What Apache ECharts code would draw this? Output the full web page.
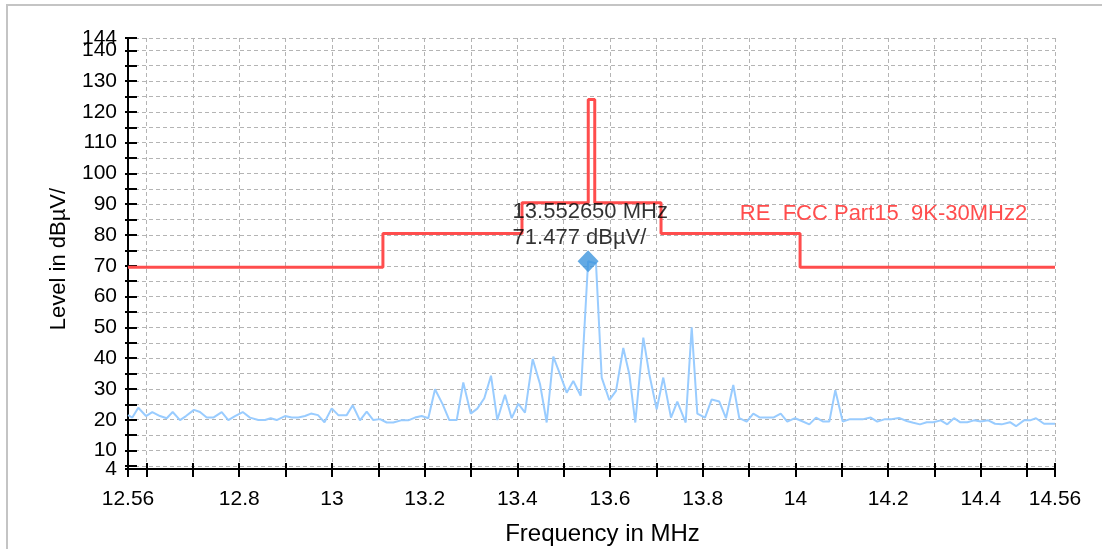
<!DOCTYPE html>
<html><head><meta charset="utf-8">
<script src="https://cdn.jsdelivr.net/npm/echarts@6/dist/echarts.min.js"></script>
<style>html,body{margin:0;padding:0;background:#fff}#c{width:1102px;height:549px}</style>
</head><body><div id="c"></div>
<script>
// ---- data ----
const freqTicks = [12.56,12.6,12.7,12.8,12.9,13.0,13.1,13.2,13.3,13.4,13.5,13.6,13.7,13.8,13.9,14.0,14.1,14.2,14.3,14.4,14.5,14.56];
const freqLabels = [12.56,12.8,13,13.2,13.4,13.6,13.8,14,14.2,14.4,14.56];
const levelTicks = [4,5,10,15,20,25,30,35,40,45,50,55,60,65,70,75,80,85,90,95,100,105,110,115,120,125,130,135,140,144];
const levelLabels = [10,20,30,40,50,60,70,80,90,100,110,120,130,140];
const levelEndLabels = [4,144];

const traceFreq = [12.56,12.5693,12.5822,12.5988,12.6124,12.6290,12.6435,12.6564,12.6722,12.6851,
 12.7024,12.7153,12.7298,12.7440,12.7622,12.7764,12.7909,12.8075,12.8232,12.8411,
 12.8556,12.8679,12.8808,12.8987,12.9132,12.9274,12.9419,12.9548,12.9699,12.9839,
 12.9995,13.0137,13.0318,13.0448,13.0605,13.0750,13.0892,13.1037,13.1181,13.1324,
 13.1490,13.1647,13.1792,13.1937,13.2079,13.2224,13.2390,13.2532,13.2692,13.2834,
 13.2994,13.3136,13.3287,13.3432,13.3568,13.3734,13.3878,13.4021,13.4165,13.4331,
 13.4489,13.4633,13.4776,13.4920,13.5065,13.5207,13.5367,13.5527,13.5697,13.5820,
 13.5984,13.6129,13.6286,13.6416,13.6545,13.6718,13.6847,13.7007,13.7149,13.7315,
 13.7451,13.7632,13.7762,13.7883,13.8049,13.8193,13.8357,13.8502,13.8659,13.8789,
 13.8948,13.9091,13.9235,13.9380,13.9522,13.9682,13.9824,13.9991,14.0135,14.0299,
 14.0444,14.0601,14.0731,14.0860,14.1020,14.1177,14.1322,14.1464,14.1624,14.1766,
 14.1932,14.2077,14.2234,14.2400,14.2543,14.2687,14.2832,14.2974,14.3134,14.3276,
 14.3421,14.3550,14.3708,14.3852,14.3997,14.4161,14.4306,14.4450,14.4629,14.4759,
 14.4931,14.5061,14.5190,14.5363,14.56];
const traceLevel = [21.5,20.7,23.9,21.2,22.5,21.2,20.5,22.5,19.9,21.2,
 23.2,22.5,20.7,20.7,22.5,19.9,21.2,22.5,20.7,19.9,
 19.9,20.5,19.9,21.2,20.7,20.7,21.2,22.0,21.5,19.2,
 23.7,21.5,21.5,24.7,19.8,22.6,19.9,20.2,19.1,19.1,
 19.8,19.8,20.7,21.2,20.5,29.9,25.0,19.9,19.9,32.1,
 22.0,23.6,27.0,34.3,19.9,28.1,20.5,25.2,22.3,39.7,
 31.6,19.1,40.5,34.8,28.8,32.6,27.8,71.477,70.8,33.7,
 26.4,29.4,43.3,34.8,19.1,46.7,34.8,23.4,33.7,20.7,
 25.9,19.1,50.0,22.0,20.7,26.6,25.9,20.5,31.3,20.5,
 19.4,22.0,20.7,20.7,20.7,22.0,19.4,20.5,19.6,18.5,
 20.7,19.4,19.4,29.6,19.4,20.2,20.2,20.2,20.7,19.4,
 20.2,20.2,20.6,19.6,19.0,18.5,19.2,19.2,19.8,18.5,
 20.5,19.2,19.2,19.8,19.4,19.8,18.7,18.5,19.2,17.9,
 19.8,19.8,20.5,18.7,18.7];

const limitFreq  = [12.56,13.11,13.11,13.41,13.41,13.553,13.553,13.567,13.567,13.71,13.71,14.01,14.01,14.56];
const limitLevel = [69.5,69.5,80.5,80.5,90.5,90.5,124,124,90.5,90.5,80.5,80.5,69.5,69.5];
const limitName = 'RE  FCC Part15  9K-30MHz2';
const limitLabelAt = [14.19, 87];

const peakFreq = 13.55265;
const peakLevel = 71.477;

// ---- chart ----
const FONT = '"Liberation Sans", Arial, sans-serif';
const fmt = v => String(Math.round(v * 1000) / 1000);
const BLACK = '#000';
const gridLine = {show:true, lineStyle:{color:'#b4b4b4', width:1, type:[4,3]}};
const labelStyle = {show:true, margin:11, fontSize:21, color:BLACK, fontFamily:FONT, formatter:fmt,
                    showMinLabel:true, showMaxLabel:true, hideOverlap:false};

const chart = echarts.init(document.getElementById('c'), null, {renderer:'canvas'});
chart.setOption({
  animation:false,
  backgroundColor:'#fff',
  textStyle:{fontFamily:FONT},
  grid:{left:128, right:47, top:38, bottom:80, outerBoundsMode:'none', containLabel:false},
  graphic:[{type:'rect', silent:true, shape:{x:7, y:5, width:1300, height:800},
            style:{fill:'none', stroke:'#c4c4c4', lineWidth:2}}],
  xAxis:[
    {type:'value', min:12.56, max:14.56, position:'bottom',
     name:'Frequency in MHz', nameLocation:'middle', nameGap:53,
     nameTextStyle:{fontSize:24, color:BLACK, fontFamily:FONT, padding:[0,0,0,22]},
     axisLine:{show:true, onZero:false, lineStyle:{color:BLACK, width:2}},
     axisTick:{show:true, inside:false, length:8, lineStyle:{color:BLACK, width:2}, customValues:freqTicks},
     axisLabel:Object.assign({}, labelStyle, {margin:20, customValues:freqLabels}),
     splitLine:gridLine},
    {type:'value', min:12.56, max:14.56, position:'bottom',
     axisLine:{show:false, onZero:false},
     axisTick:{show:true, inside:true, length:6, lineStyle:{color:BLACK, width:2}, customValues:freqTicks},
     axisLabel:{show:false}, splitLine:{show:false}}
  ],
  yAxis:[
    {type:'value', min:4, max:144, position:'left',
     name:'Level in dBµV/', nameLocation:'middle', nameGap:58,
     nameTextStyle:{fontSize:22, color:BLACK, fontFamily:FONT, padding:[0,11,0,0]},
     axisLine:{show:true, onZero:false, lineStyle:{color:BLACK, width:2}},
     axisTick:{show:true, inside:false, length:3, lineStyle:{color:BLACK, width:2}, customValues:levelTicks},
     axisLabel:Object.assign({}, labelStyle, {customValues:levelLabels}),
     splitLine:gridLine},
    {type:'value', min:4, max:144, position:'left',
     axisLine:{show:false, onZero:false},
     axisTick:{show:true, inside:true, length:9, lineStyle:{color:BLACK, width:2}, customValues:levelTicks},
     axisLabel:Object.assign({}, labelStyle, {customValues:levelEndLabels}),
     splitLine:{show:false}}
  ],
  series:[
    {type:'line', name:'trace', xAxisIndex:0, yAxisIndex:0, z:2,
     data:traceFreq.map((f,i)=>[f, traceLevel[i]]),
     symbol:'none', lineStyle:{color:'#99ccff', width:2}},
    {type:'line', name:'limit', xAxisIndex:0, yAxisIndex:0, z:3,
     data:limitFreq.map((f,i)=>[f, limitLevel[i]]),
     symbol:'none', lineStyle:{color:'#ff4d4d', width:3},
     markPoint:{symbol:'circle', symbolSize:0, silent:true,
       data:[{coord:limitLabelAt}],
       label:{show:true, position:'inside', formatter:limitName, color:'#ff4d4d', fontSize:22, fontFamily:FONT}}},
    {type:'scatter', name:'peak', xAxisIndex:0, yAxisIndex:0, z:5,
     data:[[peakFreq, peakLevel]],
     symbol:'diamond', symbolSize:[21,22], itemStyle:{color:'#3d95dd'},
     label:{show:true, position:[-65,-51], align:'left', verticalAlign:'top',
       lineHeight:26, fontSize:22, color:BLACK, fontFamily:FONT,
       formatter: () => peakFreq.toFixed(6) + ' MHz\n' + peakLevel.toFixed(3) + ' dBµV/'}}
  ]
});
</script></body></html>
